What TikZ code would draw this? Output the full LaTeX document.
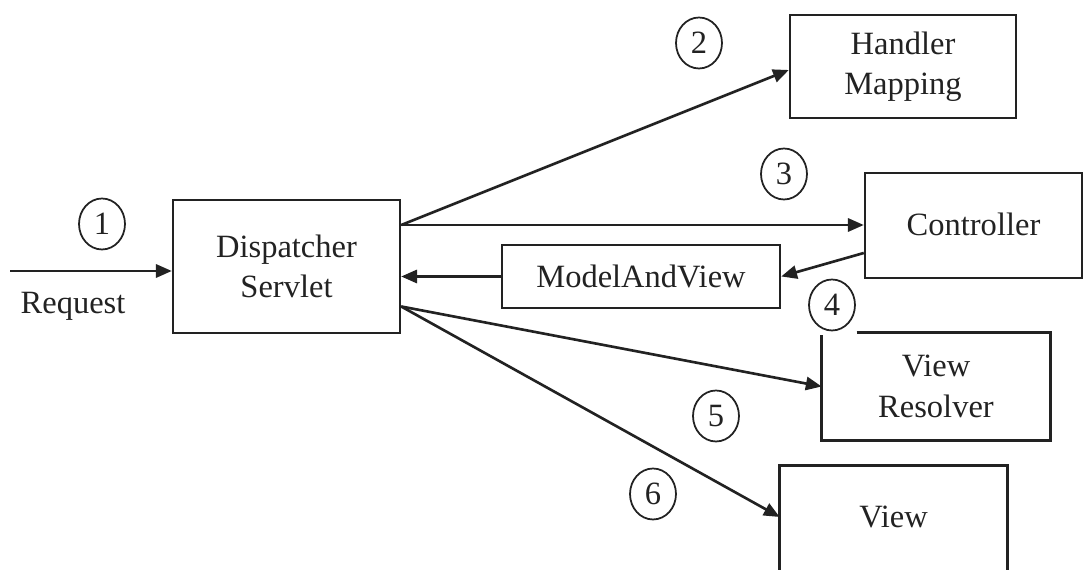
\documentclass[tikz,border=0pt]{standalone}
\usepackage{fontspec}
\setmainfont{Liberation Serif}
\usetikzlibrary{arrows.meta,shapes.geometric}
\definecolor{ink}{HTML}{222222}
\tikzset{
  boxline/.style={draw=ink, line width=1.4pt},
  box/.style={boxline, rectangle, align=center, inner sep=0pt, text=ink,
    font=\fontsize{18.5}{23}\selectfont},
  plain/.style={rectangle, align=center, inner sep=0pt, text=ink,
    font=\fontsize{18.5}{23}\selectfont},
  num/.style={ellipse, draw=ink, line width=1pt, fill=white, inner sep=0pt,
    minimum width=0.92cm, minimum height=1.02cm, text=ink,
    font=\fontsize{18.5}{23}\selectfont},
  conn/.style={draw=ink, line width=1.5pt, -{Triangle[length=9pt,width=7.5pt]}}
}
\begin{document}
\begin{tikzpicture}[x=0.02cm,y=-0.02cm]
\useasboundingbox (0,0) rectangle (1086,570);
\clip (0,0) rectangle (1086,570);
% boxes
\node[box, minimum width=4.54cm, minimum height=2.66cm] (ds) at (286.5,266.5) {Dispatcher\\Servlet};
\node[box, minimum width=4.52cm, minimum height=2.06cm] (hm) at (903,66.5) {Handler\\Mapping};
\node[box, minimum width=4.34cm, minimum height=2.1cm] (ctl) at (973.5,225.5) {\raisebox{0.05cm}{Controller}};
\node[box, minimum width=5.56cm, minimum height=1.26cm] (mav) at (641,276.5) {ModelAndView};
\node[plain, minimum width=4.56cm, minimum height=2.14cm] (vr) at (936,386.5) {View\\Resolver};
\node[plain, minimum width=4.54cm, minimum height=2.04cm] (vw) at (893.5,517) {View};
% view resolver outline (gap at top-left corner)
\draw[boxline] ([xshift=0.7cm]vr.north west) -- (vr.north east) -- (vr.south east) -- (vr.south west) -- ([yshift=-0.04cm]vr.north west);
% view outline (bottom cut off)
\draw[boxline] ([yshift=-0.5cm]vw.south west) -- (vw.north west) -- (vw.north east) -- ([yshift=-0.5cm]vw.south east);
% request
\coordinate (req) at (10,271);
\draw[conn] (req) -- (req -| ds.west);
\node[plain] (reqlbl) at (73,306) {Request};
% connectors
\coordinate (ds2) at ([yshift=0.83cm]ds.east);
\coordinate (ds5) at ([yshift=-0.8cm]ds.east);
\draw[conn] (ds2) -- ([yshift=-0.07cm]hm.west);
\draw[conn] (ds2) -- (ds2 -| ctl.west);
\draw[conn] ([yshift=-0.55cm]ctl.west) -- (mav.east);
\draw[conn] (mav.west) -- (mav.west -| ds.east);
\draw[conn] (ds5) -- (vr.west);
\draw[conn] (ds5) -- (vw.west);
% step numbers
\node[num] (n1) at (102,224) {1};
\node[num] (n2) at (699,43) {2};
\node[num] (n3) at (784,174) {3};
\node[num] (n4) at (832,305) {4};
\node[num] (n5) at (716,416) {5};
\node[num] (n6) at (653,494) {6};
\end{tikzpicture}
\end{document}
